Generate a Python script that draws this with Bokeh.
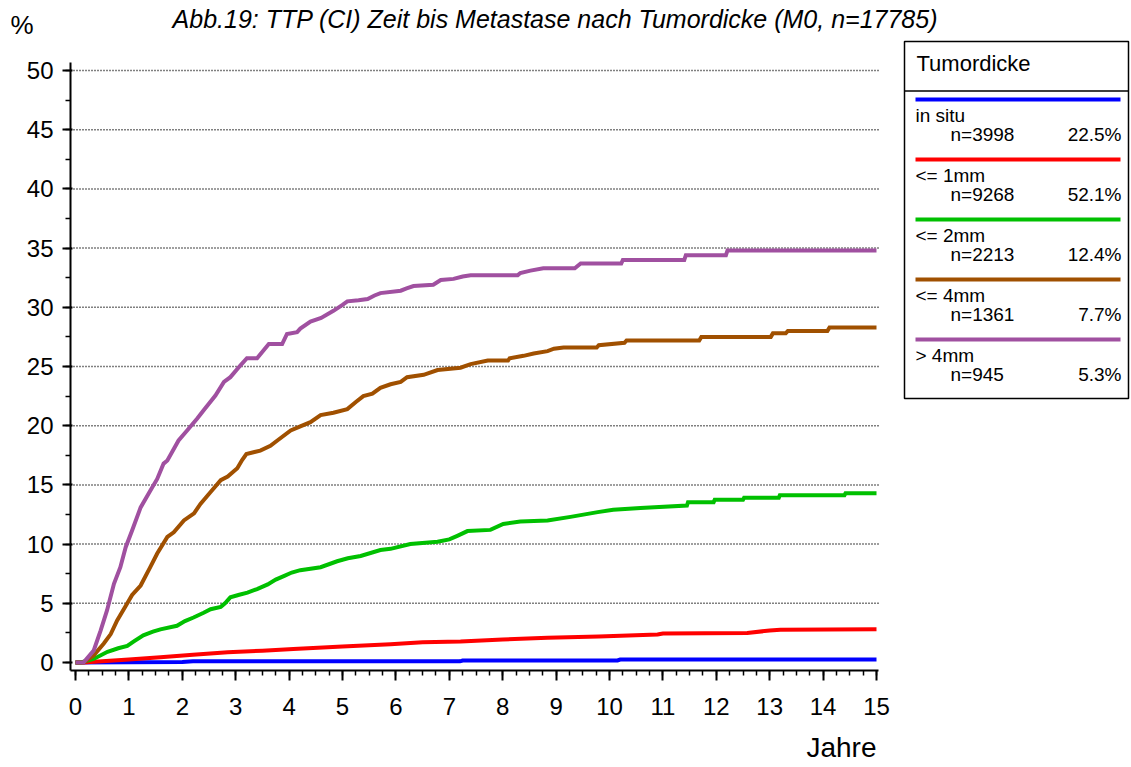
from bokeh.plotting import figure
from bokeh.models import Range1d, FixedTicker, LinearAxis
from bokeh.core.properties import value
from bokeh.embed import file_html
from bokeh.resources import INLINE

# ---------------- data ----------------
title_text = "Abb.19: TTP (CI) Zeit bis Metastase nach Tumordicke (M0, n=17785)"
y_unit = "%"
x_title = "Jahre"
legend_title = "Tumordicke"
categories = ["in situ", "<= 1mm", "<= 2mm", "<= 4mm", "> 4mm"]
n_values = [3998, 9268, 2213, 1361, 945]
pct_labels = ["22.5%", "52.1%", "12.4%", "7.7%", "5.3%"]
x_ticks = list(range(0, 16))
y_ticks = list(range(0, 55, 5))

t_insitu = [0, 1.0, 2.0, 2.2, 7.2, 7.25, 10.15, 10.2, 15.0]
v_insitu = [0, 0.02, 0.05, 0.1, 0.1, 0.17, 0.17, 0.25, 0.25]

t_1mm = [0, 0.15, 0.5, 1.0, 1.59, 2.2, 2.85, 3.5, 4.08, 5.0, 5.9, 6.5, 7.21, 8.0,
         8.84, 9.8, 10.9, 11.0, 12.58, 13.0, 13.2, 15.0]
v_1mm = [0, 0, 0.1, 0.25, 0.45, 0.65, 0.87, 1.0, 1.15, 1.35, 1.55, 1.7, 1.77, 1.95,
         2.08, 2.2, 2.36, 2.45, 2.5, 2.7, 2.76, 2.8]

t_2mm = [0, 0.1, 0.34, 0.6, 0.8, 0.97, 1.1, 1.27, 1.45, 1.59, 1.9, 2.05, 2.21, 2.4,
         2.53, 2.72, 2.8, 2.9, 3.05, 3.22, 3.4, 3.6, 3.75, 3.9, 4.05, 4.21, 4.59,
         4.9, 5.1, 5.34, 5.71, 5.9, 6.27, 6.78, 7.0, 7.15, 7.34, 7.77, 8.01, 8.33,
         8.84, 9.27, 9.78, 10.07, 10.58, 11.45, 11.47, 11.95, 11.97, 12.5, 12.52,
         13.17, 13.19, 14.4, 14.42, 15.0]
v_2mm = [0, 0, 0.3, 0.9, 1.2, 1.4, 1.8, 2.3, 2.6, 2.8, 3.1, 3.5, 3.8, 4.2,
         4.5, 4.7, 5.0, 5.5, 5.7, 5.9, 6.2, 6.6, 7.0, 7.3, 7.6, 7.8, 8.05,
         8.55, 8.8, 9.0, 9.5, 9.6, 10.0, 10.2, 10.4, 10.7, 11.1, 11.2, 11.7, 11.9,
         12.0, 12.3, 12.7, 12.9, 13.05, 13.26, 13.54, 13.54, 13.74, 13.74, 13.91,
         13.91, 14.13, 14.13, 14.3, 14.3]

t_4mm = [0, 0.15, 0.34, 0.53, 0.66, 0.78, 0.97, 1.06, 1.22, 1.40, 1.53, 1.72, 1.84,
         2.03, 2.22, 2.34, 2.53, 2.72, 2.85, 3.03, 3.12, 3.2, 3.46, 3.65, 3.78,
         4.03, 4.21, 4.4, 4.59, 4.83, 5.09, 5.25, 5.39, 5.56, 5.71, 5.9, 6.09, 6.21,
         6.52, 6.78, 7.21, 7.4, 7.72, 8.1, 8.13, 8.39, 8.58, 8.84, 8.96, 9.14, 9.76,
         9.8, 10.28, 10.32, 11.68, 11.72, 13.02, 13.06, 13.3, 13.34, 14.08, 14.12, 15.0]
v_4mm = [0, 0, 0.6, 1.6, 2.4, 3.55, 5.0, 5.7, 6.5, 8.05, 9.2, 10.6, 11.0,
         12.0, 12.6, 13.4, 14.4, 15.4, 15.7, 16.4, 17.1, 17.6, 17.9, 18.3, 18.75,
         19.6, 19.95, 20.3, 20.9, 21.1, 21.4, 22.0, 22.5, 22.7, 23.2, 23.5, 23.7, 24.1,
         24.3, 24.7, 24.9, 25.2, 25.5, 25.5, 25.7, 25.9, 26.1, 26.3, 26.5, 26.6, 26.6,
         26.8, 27.0, 27.2, 27.2, 27.5, 27.5, 27.8, 27.8, 28.0, 28.0, 28.3, 28.3]

t_gt4mm = [0, 0.15, 0.34, 0.47, 0.59, 0.72, 0.84, 0.94, 1.06, 1.22, 1.40, 1.53, 1.65,
           1.72, 1.93, 2.09, 2.28, 2.40, 2.62, 2.78, 2.9, 3.09, 3.21, 3.40, 3.62,
           3.87, 3.96, 4.15, 4.21, 4.4, 4.6, 4.83, 5.0, 5.09, 5.3, 5.47, 5.6, 5.71,
           6.09, 6.2, 6.33, 6.7, 6.84, 7.08, 7.25, 7.4, 8.28, 8.33, 8.52, 8.76, 9.35,
           9.46, 10.22, 10.25, 11.4, 11.43, 12.18, 12.21, 15.0]
v_gt4mm = [0, 0, 1.0, 2.7, 4.4, 6.65, 8.05, 9.74, 11.15, 13.1, 14.5, 15.5, 16.8,
           17.06, 18.75, 19.6, 20.6, 21.3, 22.55, 23.7, 24.1, 25.1, 25.7, 25.7, 26.9,
           26.9, 27.75, 27.9, 28.2, 28.8, 29.1, 29.7, 30.2, 30.5, 30.6, 30.7, 31.0, 31.2,
           31.4, 31.6, 31.8, 31.9, 32.3, 32.4, 32.6, 32.7, 32.7, 32.9, 33.1, 33.3, 33.3,
           33.7, 33.7, 34.0, 34.0, 34.4, 34.4, 34.8, 34.8]

series_t = [t_insitu, t_1mm, t_2mm, t_4mm, t_gt4mm]
series_v = [v_insitu, v_1mm, v_2mm, v_4mm, v_gt4mm]

# ---------------- styles / layout ----------------
colors = ["#0000FF", "#FF0000", "#00C000", "#A05000", "#A050A0"]
FONT = "Liberation Sans"
W, H = 1130, 766
FRAME_L, FRAME_B = 70, 670          # pixel position of frame left / bottom
X0_PX, PX_PER_YEAR = 75.0, 53.4     # pixel of x=0, pixels per year
Y0_PX, PX_PER_PCT = 662.0, 11.84    # pixel of y=0, pixels per percent


def X(px):
    return (px - X0_PX) / PX_PER_YEAR


def Y(py):
    return (Y0_PX - py) / PX_PER_PCT


p = figure(width=W, height=H, output_backend="svg", toolbar_location=None,
           x_range=Range1d(X(FRAME_L), X(W)), y_range=Range1d(Y(FRAME_B), Y(0)),
           min_border_left=FRAME_L, min_border_right=0, min_border_top=0,
           min_border_bottom=H - FRAME_B)
p.outline_line_color = None
p.grid.visible = False

# dotted horizontal grid lines (only over the plot area)
grid_y = [t for t in y_ticks if t > 0]
p.segment(x0=[X(70)] * len(grid_y), y0=grid_y, x1=[X(878)] * len(grid_y), y1=grid_y,
          line_color="black", line_dash="1 2", line_width=1.5)

p.xaxis.ticker = FixedTicker(ticks=x_ticks, minor_ticks=[i * 0.25 for i in range(61)])
p.yaxis.ticker = FixedTicker(ticks=y_ticks, minor_ticks=[i * 2.5 for i in range(21)])
p.xaxis.bounds = (X(70), X(878))
p.yaxis.bounds = (Y(670), Y(62))
for ax in (p.xaxis, p.yaxis):
    ax.axis_line_width = 2
    ax.axis_line_color = "black"
    ax.major_tick_line_width = 2
    ax.minor_tick_line_width = 1.5
    ax.major_tick_line_color = "black"
    ax.minor_tick_line_color = "black"
    ax.minor_tick_out = 5
    ax.minor_tick_in = 0
    ax.major_label_text_font = FONT
    ax.major_label_text_font_size = "24px"
    ax.major_label_text_color = "black"
p.xaxis.major_tick_out = 10
p.xaxis.major_tick_in = 0
p.yaxis.major_tick_out = 8
p.yaxis.major_tick_in = 2
p.xaxis.major_label_standoff = 17
p.yaxis.major_label_standoff = 9

# unit "%" (top left) and "Jahre" (bottom right) as label-only axes
unit_pos = Y(24)
unit_axis = LinearAxis(ticker=FixedTicker(ticks=[unit_pos]),
                       major_label_overrides={unit_pos: y_unit},
                       axis_line_color=None, major_tick_line_color=None,
                       minor_tick_line_color=None, major_tick_out=0, major_tick_in=0,
                       minor_tick_out=0, minor_tick_in=0, major_label_standoff=-10,
                       major_label_text_font=FONT, major_label_text_font_size="26px",
                       major_label_text_color="black")
p.add_layout(unit_axis, "left")

jahre_pos = X(841)
jahre_axis = LinearAxis(ticker=FixedTicker(ticks=[jahre_pos]),
                        major_label_overrides={jahre_pos: x_title},
                        axis_line_color=None, major_tick_line_color=None,
                        minor_tick_line_color=None, major_tick_out=0, major_tick_in=0,
                        minor_tick_out=0, minor_tick_in=0, major_label_standoff=14,
                        major_label_text_font=FONT, major_label_text_font_size="28px",
                        major_label_text_color="black")
p.add_layout(jahre_axis, "below")

for t, v, c in zip(series_t, series_v, colors):
    p.line(t, v, line_color=c, line_width=4, line_join="miter")

# title
p.text(x=[X(555)], y=[Y(18.5)], text=[title_text], text_font=value(FONT),
       text_font_size="25px", text_font_style="italic", text_baseline="middle",
       text_align="center", text_color="black")

# legend box
p.quad(left=[X(904)], right=[X(1128)], top=[Y(41)], bottom=[Y(398)], fill_color=None,
       line_color="black", line_width=1.5)
p.segment(x0=[X(904)], y0=[Y(90.5)], x1=[X(1128)], y1=[Y(90.5)], line_color="black",
          line_width=1.5)
p.text(x=[X(916)], y=[Y(63)], text=[legend_title], text_font=value(FONT),
       text_font_size="22px", text_baseline="middle", text_align="left",
       text_color="black")
for i, (cat, n, pct, c) in enumerate(zip(categories, n_values, pct_labels, colors)):
    y0 = 99 + 60 * i
    p.segment(x0=[X(915)], y0=[Y(y0)], x1=[X(1120)], y1=[Y(y0)], line_color=c,
              line_width=4)
    p.text(x=[X(915)], y=[Y(y0 + 16)], text=[cat], text_font=value(FONT),
           text_font_size="19px", text_baseline="middle", text_align="left",
           text_color="black")
    p.text(x=[X(950)], y=[Y(y0 + 35)], text=["n=%d" % n], text_font=value(FONT),
           text_font_size="19px", text_baseline="middle", text_align="left",
           text_color="black")
    p.text(x=[X(1121)], y=[Y(y0 + 35)], text=[pct], text_font=value(FONT),
           text_font_size="19px", text_baseline="middle", text_align="right",
           text_color="black")

open("out.html", "w").write(file_html(p, INLINE))
